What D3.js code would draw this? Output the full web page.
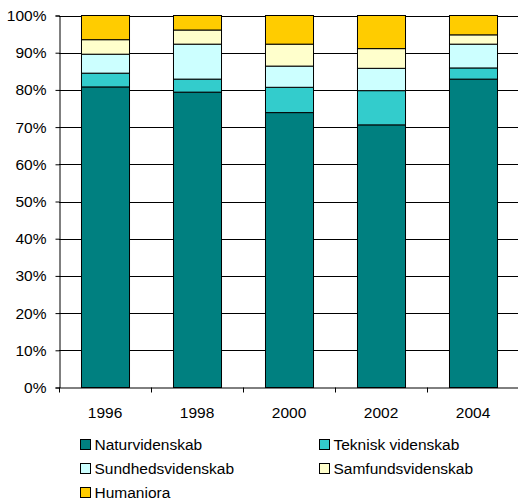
<!DOCTYPE html>
<html>
<head>
<meta charset="utf-8">
<script src="https://cdn.jsdelivr.net/npm/d3@7"></script>
<style>
  body { margin: 0; background: #fff; }
  svg { display: block; font-family: "Liberation Sans", Arial, sans-serif; }
</style>
</head>
<body>
<div id="chart"></div>
<script>
"use strict";

// Data (percent of total per year)
const years = ["1996", "1998", "2000", "2002", "2004"];
const fields = ["Naturvidenskab", "Teknisk videnskab", "Sundhedsvidenskab", "Samfundsvidenskab", "Humaniora"];
const naturvidenskab = [80.8, 79.4, 73.9, 70.6, 82.9];
const teknisk = [3.7, 3.5, 6.8, 9.2, 3.0];
const sundheds = [5.1, 9.4, 5.7, 6.0, 6.4];
const samfunds = [3.9, 3.8, 5.9, 5.3, 2.5];
const humaniora = [6.5, 3.9, 7.7, 8.9, 5.2];
const yTicks = [0, 10, 20, 30, 40, 50, 60, 70, 80, 90, 100];

const colors = ["#008080", "#33CCCC", "#CCFFFF", "#FFFFCC", "#FFCC00"];

const width = 518, height = 500;
const margin = { top: 15.5, right: -1, bottom: 112.5, left: 59 };

// Build one row per year for the stack
const table = years.map((y, i) => ({
    year: y,
    "Naturvidenskab": naturvidenskab[i],
    "Teknisk videnskab": teknisk[i],
    "Sundhedsvidenskab": sundheds[i],
    "Samfundsvidenskab": samfunds[i],
    "Humaniora": humaniora[i]
}));

const svg = d3.select("#chart").append("svg")
    .attr("width", width)
    .attr("height", height);

const xScale = d3.scaleBand()
    .domain(years)
    .range([margin.left, width - margin.right])
    .paddingInner(0.478)
    .paddingOuter(0.239);

const yScale = d3.scaleLinear()
    .domain([0, 100])
    .range([height - margin.bottom, margin.top]);

// Horizontal gridlines
svg.append("g")
    .selectAll("line")
    .data(yTicks.slice(1))
    .join("line")
    .attr("x1", margin.left)
    .attr("x2", width - margin.right)
    .attr("y1", d => Math.round(yScale(d)) + 0.5)
    .attr("y2", d => Math.round(yScale(d)) + 0.5)
    .attr("stroke", "#000")
    .attr("stroke-width", 1);

// Stacked bars (100% stacked, so normalise each year)
const series = d3.stack().keys(fields).offset(d3.stackOffsetExpand)(table);

svg.append("g")
    .selectAll("g")
    .data(series)
    .join("g")
    .attr("fill", (d, i) => colors[i])
    .selectAll("rect")
    .data(d => d)
    .join("rect")
    .attr("x", d => xScale(d.data.year) + 0.5)
    .attr("y", d => yScale(d[1] * 100))
    .attr("width", xScale.bandwidth())
    .attr("height", d => yScale(d[0] * 100) - yScale(d[1] * 100))
    .attr("stroke", "#000")
    .attr("stroke-width", 1);

// Y axis
svg.append("g")
    .attr("transform", `translate(${margin.left + 0.5},0)`)
    .call(d3.axisLeft(yScale).tickValues(yTicks).tickFormat(d => d + "%").tickSize(4).tickPadding(9))
    .call(g => g.select(".domain").attr("stroke", "#000"))
    .call(g => g.selectAll("text").attr("font-size", 15.5).attr("fill", "#000")
        .attr("font-family", "'Liberation Sans', Arial, sans-serif"));

// X axis: tick marks at the category boundaries, labels at the centres
const boundary = d3.scaleLinear()
    .domain([0, years.length])
    .range([margin.left, width - margin.right]);

svg.append("g")
    .attr("transform", `translate(0,${yScale(0)})`)
    .call(d3.axisBottom(boundary).ticks(years.length).tickFormat("").tickSize(5).tickSizeOuter(0))
    .call(g => g.select(".domain").attr("stroke", "#000"));

svg.append("g")
    .attr("transform", `translate(0,${yScale(0)})`)
    .call(d3.axisBottom(xScale).tickSize(0).tickPadding(19))
    .call(g => g.select(".domain").remove())
    .call(g => g.selectAll("text").attr("font-size", 15.5).attr("fill", "#000")
        .attr("font-family", "'Liberation Sans', Arial, sans-serif"));

// Legend, two columns
const legend = svg.append("g")
    .selectAll("g")
    .data(fields)
    .join("g")
    .attr("transform", (d, i) => `translate(${i % 2 === 0 ? 80.5 : 319.5},${439.5 + Math.floor(i / 2) * 24})`);

legend.append("rect")
    .attr("width", 10)
    .attr("height", 10)
    .attr("fill", (d, i) => colors[i])
    .attr("stroke", "#000");

legend.append("text")
    .attr("x", 14)
    .attr("y", 5)
    .attr("dy", "0.35em")
    .attr("font-size", 15.5)
    .attr("fill", "#000")
    .text(d => d);
</script>
</body>
</html>
